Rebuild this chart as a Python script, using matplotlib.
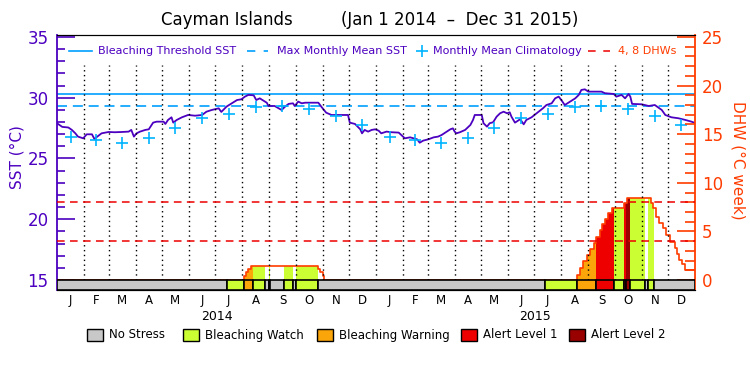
import matplotlib
matplotlib.use('Agg')
import matplotlib.pyplot as plt
from matplotlib.patches import Rectangle
from matplotlib.ticker import MultipleLocator
import numpy as np
import pandas as pd

# days counted from Jan 1 2014
sst_day = [0, 6, 13, 17, 21, 24, 30, 34, 40, 43, 45, 51, 59, 66, 74, 82, 85, 88, 91, 95,
           101, 105, 110, 114, 122, 124, 127, 131, 133, 137, 143, 150, 158, 166, 171, 177,
           185, 188, 194, 200, 206, 211, 215, 219, 225, 228, 232, 240, 242, 249, 257, 261,
           265, 270, 272, 276, 280, 284, 299, 303, 308, 314, 333, 335, 341, 347, 349, 352,
           356, 360, 364, 368, 371, 377, 383, 391, 394, 398, 404, 408, 412, 415, 419, 425,
           431, 436, 440, 446, 450, 453, 455, 457, 461, 467, 473, 476, 478, 486, 488, 492,
           495, 499, 503, 507, 511, 515, 518, 520, 524, 530, 534, 537, 543, 551, 556, 560,
           566, 570, 574, 577, 581, 587, 593, 597, 600, 604, 608, 616, 623, 627, 637, 640,
           646, 650, 654, 656, 658, 669, 677, 684, 692, 696, 703, 711, 719, 726, 729]
sst_val = [27.9, 27.6, 27.55, 27.35, 27.07, 26.8, 26.66, 26.99, 26.99, 26.58, 26.74, 27.07,
           27.18, 27.16, 27.18, 27.21, 27.35, 26.8, 27.07, 27.21, 27.35, 27.4, 27.95, 28.03,
           28.03, 27.84, 28.17, 28.39, 27.95, 28.17, 28.39, 28.58, 28.52, 28.58, 28.85, 28.99,
           29.13, 28.83, 29.27, 29.54, 29.81, 29.87, 30.09, 30.23, 30.2, 29.81, 29.95, 29.59,
           29.32, 29.32, 28.99, 29.27, 29.49, 29.54, 29.32, 29.68, 29.54, 29.59, 29.59, 29.21,
           28.77, 28.58, 28.58, 27.95, 27.84, 27.4, 27.07, 27.35, 27.21, 27.35, 27.4, 27.29,
           27.07, 27.21, 27.16, 27.13, 26.93, 26.66, 26.74, 26.66, 26.58, 26.3, 26.47, 26.58,
           26.74, 26.8, 26.93, 27.21, 27.4, 27.48, 27.21, 27.07, 27.16, 27.35, 27.76, 28.17,
           28.58, 28.58, 27.9, 27.62, 27.9, 27.98, 28.44, 28.72, 28.85, 28.72, 28.8, 28.44,
           27.95, 28.23, 27.81, 28.17, 28.39, 28.85, 29.13, 29.4, 29.54, 29.95, 30.09, 29.81,
           29.4, 29.68, 29.95, 30.23, 30.64, 30.69, 30.5, 30.5, 30.5, 30.37, 30.31, 30.09,
           30.23, 29.95, 30.31, 30.09, 29.49, 29.46, 29.32, 29.4, 28.99, 28.58, 28.39, 28.31,
           28.17, 28.03, 27.95]

clim_sst = [26.8, 26.5, 26.3, 26.7, 27.5, 28.3, 28.65, 29.2, 29.3, 29.05, 28.5, 27.75]
threshold = 30.3
mmm = 29.3

dhw_day = [0, 214, 216, 219, 222, 299, 301, 304, 306, 595, 598, 602, 606, 610, 614, 617,
           621, 624, 627, 631, 635, 649, 652, 680, 682, 685, 689, 693, 697, 701, 707, 709,
           712, 715, 719, 730]
dhw_val = [0, 0.45, 0.79, 1.13, 1.47, 1.13, 0.79, 0.45, 0, 0.5, 1.2, 1.95, 2.57, 3.19, 3.77,
           4.46, 5.14, 5.73, 6.28, 6.86, 7.37, 7.89, 8.4, 7.96, 7.37, 6.51, 5.83, 5.31, 4.63,
           3.94, 3.26, 2.64, 2.06, 1.61, 1.03, 1.03]

# 0 no stress, 1 watch, 2 warning, 3 alert 1, 4 alert 2
stress_start = [0, 194, 214, 224, 238, 242, 244, 260, 270, 274, 299, 558, 595, 617, 637,
                649, 651, 656, 673, 676, 683]
stress_level = [0, 1, 2, 1, 0, 1, 0, 1, 0, 1, 0, 1, 2, 3, 1, 3, 4, 1, 0, 1, 0]
stress_names = ['No Stress', 'Bleaching Watch', 'Bleaching Warning', 'Alert Level 1', 'Alert Level 2']
stress_colors = ['#c8c8c8', '#ccff33', '#faa50a', '#ee0000', '#990000']

month_letters = list('JFMAMJJASOND') * 2
years = ['2014', '2015']

purple = '#4c00c0'
orange = '#ff3c00'
blue = '#00a0ff'

fig = plt.figure(figsize=(7.5, 3.75), dpi=100)
ax = fig.add_axes([57/750, 1-290/375, 638/750, 255/375])
ax2 = ax.twinx()

ylo, yhi = 14.18, 35.16
ax.set_ylim(ylo, yhi)
ax2.set_ylim((ylo-15)*1.25, (yhi-15)*1.25)
ax.set_xlim(0, 730)

start = pd.Timestamp('2014-01-01')
mstarts = (pd.date_range('2014-01-01', '2016-01-01', freq='MS') - start).days.values
bounds = mstarts[1:-1]
mids = (mstarts[:-1] + mstarts[1:]) / 2

# SST lines
ax.axhline(threshold, color=blue, lw=1.2, zorder=2)
ax.axhline(mmm, color=blue, lw=1.2, ls=(0, (6, 3.5)), zorder=2)
ax.plot(sst_day, sst_val, color=purple, lw=1.3, zorder=3)
ax.plot(mids, clim_sst*2, ls='none', marker='+', ms=9, mew=1.2, color='#00b4ff', zorder=4)

# DHW fill coloured by stress
def dhw_at(d):
    i = np.searchsorted(dhw_day, d, side='right') - 1
    return dhw_val[i]

ends = stress_start[1:] + [730]
for s, e, lev in zip(stress_start, ends, stress_level):
    if lev == 0:
        continue
    xs = [s] + [d for d in dhw_day if s < d < e] + [e]
    ys = [dhw_at(x) for x in xs]
    ax2.fill_between(xs, 0, ys, step='post', color=stress_colors[lev], lw=0, zorder=2)
ax2.step(dhw_day, dhw_val, where='post', color=orange, lw=1.2, zorder=2.5)

ax2.vlines(bounds, 0, 22.1, colors='k', linestyles=(0, (1, 2.5)), lw=1, zorder=3)
for v in (4, 8):
    ax2.axhline(v, color='#ee0000', lw=1.1, ls=(0, (5, 3.5)), zorder=4)

# stress bar
ax2.broken_barh([(s, e-s) for s, e in zip(stress_start, ends)], ((ylo-15)*1.25, -(ylo-15)*1.25),
                facecolors=[stress_colors[l] for l in stress_level], edgecolor='k', lw=1.2, zorder=5)

# axes styling
ax.set_xticks([])
ax.spines['left'].set_color(purple)
ax.spines['left'].set_linewidth(1.3)
ax.spines['right'].set_visible(False)
ax2.spines['left'].set_visible(False)
ax2.spines['right'].set_color(orange)
ax2.spines['right'].set_linewidth(1.3)
ax.set_yticks(range(15, 36, 5))
ax.yaxis.set_minor_locator(MultipleLocator(1))
ax.tick_params(axis='y', which='major', direction='in', length=13, width=1.2, colors=purple,
               labelsize=12, pad=6)
ax.tick_params(axis='y', which='minor', direction='in', length=6, width=1.2, colors=purple)
ax2.set_yticks(range(0, 26, 5))
ax2.yaxis.set_minor_locator(MultipleLocator(1))
ax2.tick_params(axis='y', which='major', direction='in', length=13, width=1.2, colors=orange,
                labelsize=12, pad=5)
ax2.tick_params(axis='y', which='minor', direction='in', length=7, width=1.2, colors=orange)

# month and year labels
for m, lab in zip(mids, month_letters):
    ax.text(m, -0.04, lab, transform=ax.get_xaxis_transform(), ha='center', va='center', fontsize=8.5)
for k, yr in enumerate(years):
    ax.text(mstarts[12*k] + 182.5, -0.102, yr, transform=ax.get_xaxis_transform(),
            ha='center', va='center', fontsize=9)

# top legend
ly = 0.937
lfs = 8
ax.plot([0.019, 0.055], [ly, ly], transform=ax.transAxes, color=blue, lw=1.2)
ax.text(0.064, ly, 'Bleaching Threshold SST', transform=ax.transAxes, color=purple, fontsize=lfs, va='center')
ax.plot([0.298, 0.331], [ly, ly], transform=ax.transAxes, color=blue, lw=1.2, ls=(0, (5, 5)))
ax.text(0.345, ly, 'Max Monthly Mean SST', transform=ax.transAxes, color=purple, fontsize=lfs, va='center')
ax.plot([0.572], [ly], transform=ax.transAxes, color='#00b4ff', marker='+', ms=9, mew=1.2)
ax.text(0.589, ly, 'Monthly Mean Climatology', transform=ax.transAxes, color=purple, fontsize=lfs, va='center')
ax.plot([0.832, 0.867], [ly, ly], transform=ax.transAxes, color='#ee0000', lw=1.1, ls=(0, (5, 5)))
ax.text(0.879, ly, '4, 8 DHWs', transform=ax.transAxes, color=orange, fontsize=lfs, va='center')

# title and axis labels
fig.text(227/750, 1-20/375, 'Cayman Islands', ha='center', va='center', fontsize=12)
fig.text(460/750, 1-20/375, '(Jan 1 2014  \u2013  Dec 31 2015)', ha='center', va='center', fontsize=12)
fig.text(17/750, 1-157/375, 'SST (\u00b0C)', rotation=90, ha='center', va='center', color=purple, fontsize=11)
fig.text(738/750, 1-160/375, 'DHW (\u00b0C week)', rotation=270, ha='center', va='center', color=orange, fontsize=11)

# stress legend
box_x = [87, 183, 317, 461, 569]
for bx, name, c in zip(box_x, stress_names, stress_colors):
    fig.patches.append(Rectangle((bx/750, 1-341/375), 16/750, 12/375, transform=fig.transFigure,
                                 facecolor=c, edgecolor='k', lw=1))
    fig.text((bx+22)/750, 1-335/375, name, ha='left', va='center', fontsize=8.5)

fig.savefig('out.png', dpi=100)
